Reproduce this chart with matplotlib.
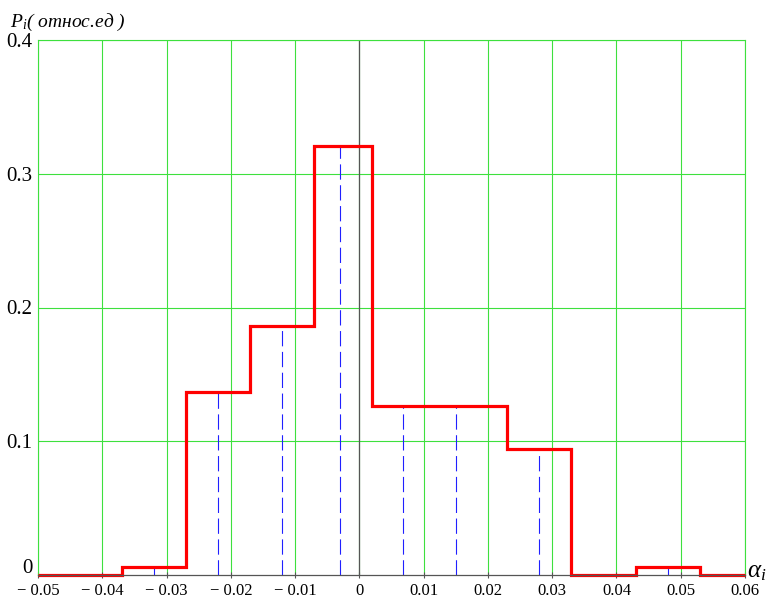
import matplotlib
matplotlib.use("Agg")
import matplotlib.pyplot as plt
import matplotlib.transforms as mtransforms
import numpy as np

plt.rcParams['font.family'] = ['Liberation Serif', 'DejaVu Serif']
plt.rcParams['mathtext.fontset'] = 'custom'
plt.rcParams['mathtext.rm'] = 'Liberation Serif'
plt.rcParams['mathtext.it'] = 'Liberation Serif:italic'
plt.rcParams['lines.scale_dashes'] = False

# histogram of alpha_i (relative frequency)
bin_edges = [-0.05, -0.037, -0.027, -0.017, -0.007, 0.002, 0.0125, 0.023, 0.033, 0.043, 0.053, 0.06]
bin_probs = [0.0, 0.006, 0.137, 0.186, 0.321, 0.126, 0.126, 0.094, 0.0, 0.006, 0.0]

# dashed markers inside bins
mark_x = [-0.032, -0.022, -0.012, -0.003, 0.0068, 0.0151, 0.028, 0.048]
mark_p = [0.006, 0.137, 0.186, 0.321, 0.126, 0.126, 0.094, 0.006]

x_ticks = [-0.05, -0.04, -0.03, -0.02, -0.01, 0, 0.01, 0.02, 0.03, 0.04, 0.05, 0.06]
x_labels = ['\u2212 0.05', '\u2212 0.04', '\u2212 0.03', '\u2212 0.02', '\u2212 0.01', '0',
            '0.01', '0.02', '0.03', '0.04', '0.05', '0.06']
y_ticks = [0, 0.1, 0.2, 0.3, 0.4]
y_labels = ['0', '0.1', '0.2', '0.3', '0.4']

green = '#3ee03e'

fig = plt.figure(figsize=(7.68, 5.98), dpi=100)
ax = fig.add_axes([38 / 768, 1 - 575 / 598, (745 - 38) / 768, (575 - 40) / 598])

ax.set_xlim(-0.05, 0.06)
ax.set_ylim(0, 0.4)

for xv in x_ticks:
    ax.axvline(xv, color=green, lw=0.8, zorder=1)
for yv in y_ticks[1:]:
    ax.axhline(yv, color=green, lw=0.8, zorder=1)

ax.axvline(0, color='#555555', lw=0.9, zorder=2)

ax.vlines(mark_x, 0, mark_p, colors='#2020ff', lw=0.8,
          linestyles=[(0, (11, 4))], zorder=3)

ax.stairs(bin_probs, bin_edges, baseline=None, color='#ff0000', lw=2.3,
          zorder=4, clip_on=False)

for side in ['left', 'right', 'top']:
    ax.spines[side].set_color(green)
    ax.spines[side].set_linewidth(0.8)
ax.spines['bottom'].set_color('#555555')
ax.spines['bottom'].set_linewidth(0.9)
ax.spines['bottom'].set_zorder(5)

ax.set_xticks(x_ticks)
ax.set_xticklabels(x_labels, fontsize=12)
ax.tick_params(axis='x', direction='inout', length=5, width=0.8,
               color='#555555', pad=3)
ax.set_yticks(y_ticks)
ax.set_yticklabels(y_labels, fontsize=15)
ax.tick_params(axis='y', length=0, pad=4)

# the zero label sits a bit higher in the original
off = mtransforms.ScaledTranslation(0, 9 / 100, fig.dpi_scale_trans)
lab0 = ax.get_yticklabels()[0]
lab0.set_transform(lab0.get_transform() + off)

fig.text(10 / 768, 1 - 22 / 598, '$P_i$( относ.ед )', fontsize=14,
         fontstyle='italic', va='center', ha='left')
fig.text(747 / 768, 1 - 572 / 598, r'$\alpha_i$', fontsize=18,
         va='center', ha='left')

fig.savefig('out.png', dpi=100)
